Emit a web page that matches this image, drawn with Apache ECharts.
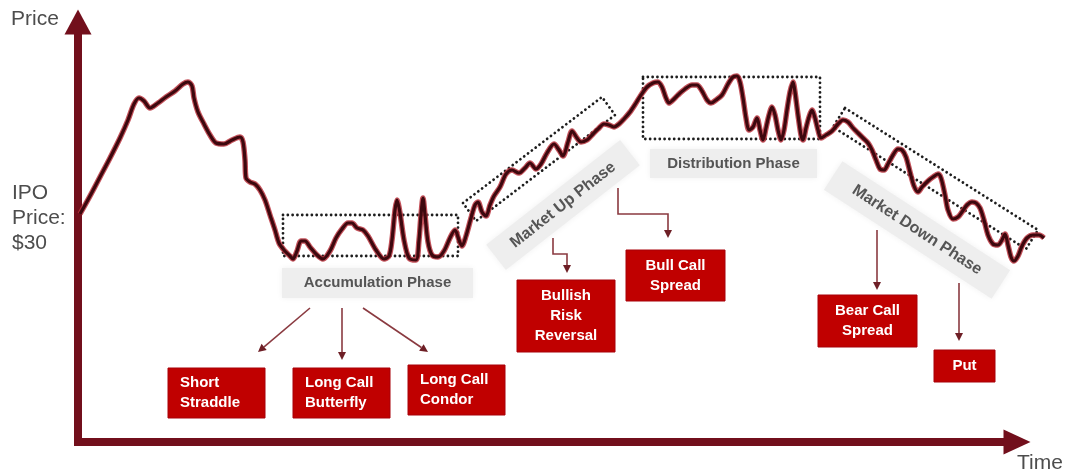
<!DOCTYPE html>
<html>
<head>
<meta charset="utf-8">
<script src="https://cdn.jsdelivr.net/npm/echarts@6/dist/echarts.min.js"></script>
<style>
  html, body { margin: 0; padding: 0; background: #fff; }
  #main { width: 1076px; height: 474px; }
</style>
</head>
<body>
<div id="main"></div>
<script>
// price path (time runs left to right, price level upward)
var time = [80, 90, 100, 110, 120, 128, 134, 139, 144, 150, 158, 166, 175, 183, 188, 192, 194, 198, 204, 210,
  216, 224, 232, 240, 243, 245, 246, 250, 255, 260, 265, 270, 275, 279, 284, 290,
  293, 297, 301, 305, 310, 317, 323, 330, 336, 342, 348, 352, 357, 363, 368, 376, 384, 389, 392, 395, 397, 400,
  404, 409, 416, 419, 421, 423, 425, 428, 432, 438, 444, 450, 455, 459, 462, 466, 471, 475, 478, 482, 486, 490,
  494, 500, 506, 512, 519, 525, 530, 536, 541, 547, 554, 559, 563, 568, 572, 577, 581, 587, 593, 598, 604, 609,
  614, 619, 624, 630, 636, 641, 647, 653, 658, 662, 666, 669, 673, 678, 685, 692, 697, 702, 707, 711, 716, 722,
  728, 733, 737, 740, 743, 746, 749, 753, 757, 760, 763, 766, 769, 772, 775, 778, 781, 784, 787, 790, 793, 795,
  798, 801, 803, 806, 809, 812, 815, 818, 821, 826, 832, 838, 843, 848, 853, 858, 863, 868, 872, 876, 880, 884,
  888, 893, 898, 902, 906, 910, 914, 918, 922, 928, 933, 938, 941, 945, 948, 953, 958, 962, 967, 972, 976, 980,
  984, 988, 993, 998, 1002, 1005, 1008, 1011, 1014, 1018, 1022, 1027, 1033, 1039, 1044];
var price = [228, 246, 265, 284, 304, 322, 338, 344, 341, 334, 339, 345, 351, 358, 360, 356, 344, 330, 318, 307,
  299, 298, 302, 305, 300, 282, 264, 260, 258, 252, 242, 227, 212, 199, 192, 186,
  183, 191, 201, 201, 195, 187, 183, 191, 204, 213, 219, 219, 214, 212, 206, 192, 183, 186, 202, 232, 242, 229,
  202, 184, 182, 202, 227, 244, 227, 200, 187, 185, 191, 204, 212, 202, 196, 206, 224, 237, 240, 230, 226, 237,
  246, 255, 268, 272, 269, 274, 279, 273, 278, 289, 298, 292, 286, 300, 311, 304, 300, 302, 308, 313, 318, 317,
  315, 318, 323, 330, 339, 347, 355, 359, 360, 355, 344, 339, 342, 347, 353, 357, 357, 351, 342, 339, 342, 347,
  358, 365, 366, 360, 344, 324, 312, 315, 324, 312, 302, 314, 327, 335, 327, 312, 302, 312, 332, 350, 360, 350,
  327, 307, 302, 314, 325, 332, 324, 312, 304, 307, 311, 318, 322, 320, 314, 309, 304, 299, 292, 282, 273, 272,
  278, 287, 293, 292, 285, 270, 256, 250, 255, 261, 265, 268, 264, 247, 232, 223, 225, 230, 237, 240, 239, 234,
  222, 207, 198, 197, 202, 208, 197, 185, 181, 186, 196, 204, 207, 207, 204];

var phaseNames = ['Accumulation Phase', 'Market Up Phase', 'Distribution Phase', 'Market Down Phase'];
var strategyNames = ['Short\nStraddle', 'Long Call\nButterfly', 'Long Call\nCondor', 'Bullish\nRisk\nReversal',
  'Bull Call\nSpread', 'Bear Call\nSpread', 'Put'];

// annotation layout, in the same time / price units as the axes
var phaseBoxes = [
  [[283, 227], [458, 227], [458, 186], [283, 186]],
  [[463, 239], [602, 345], [615, 327], [476, 221]],
  [[643, 365], [820, 365], [820, 303], [643, 303]],
  [[845, 334], [1038, 212], [1026, 193], [833, 315]]
];
var phaseLabels = [
  { at: [377.5, 159], w: 191, h: 30, rot: 0, size: 15 },
  { at: [563, 237], w: 170, h: 32, rot: 38, size: 16 },
  { at: [733.5, 278.5], w: 167, h: 29, rot: 0, size: 15 },
  { at: [917, 212], w: 200, h: 34, rot: -33, size: 16 }
];
var strategyBoxes = [
  { from: [168, 74], to: [265, 24], textX: 180 },
  { from: [293, 74], to: [390, 24], textX: 305 },
  { from: [408, 77], to: [505, 27], textX: 420 },
  { from: [517, 162], to: [615, 90] },
  { from: [626, 192], to: [725, 141] },
  { from: [818, 147], to: [917, 95] },
  { from: [934, 92], to: [995, 60] }
];
var arrows = [
  [[310, 134], [258, 90]],
  [[342, 134], [342, 82]],
  [[363, 134], [428, 90]],
  [[553, 204], [553, 188], [567, 188], [567, 169]],
  [[618, 254], [618, 228], [668, 228], [668, 204]],
  [[877, 212], [877, 152]],
  [[959, 159], [959, 101]]
];

var FONT = "'Liberation Sans', Arial, sans-serif";
var AXIS_RED = '#720f1c';

var chart = echarts.init(document.getElementById('main'));
var pathData = time.map(function (t, i) { return [t, price[i]]; });

var axisLine = {
  show: true,
  onZero: false,
  symbol: ['none', 'triangle'],
  lineStyle: { color: AXIS_RED, width: 8, cap: 'square' }
};
var hidden = { axisLine: { show: false }, axisTick: { show: false }, axisLabel: { show: false }, splitLine: { show: false } };

chart.setOption({
  animation: false,
  // grid 0 carries the arrowed axes, grid 1 (same scale, wider) carries the price path
  grid: [
    { left: 78, right: 59, top: 22, bottom: 32 },
    { left: 78, right: 31, top: 22, bottom: 32 }
  ],
  xAxis: [
    {
      type: 'value', gridIndex: 0, min: 78, max: 1017,
      axisLine: Object.assign({}, axisLine, { symbolSize: [25, 27] }),
      axisTick: { show: false }, axisLabel: { show: false }, splitLine: { show: false }
    },
    Object.assign({ type: 'value', gridIndex: 1, min: 78, max: 1045 }, hidden)
  ],
  yAxis: [
    {
      type: 'value', gridIndex: 0, min: 0, max: 420,
      axisLine: Object.assign({}, axisLine, { symbolSize: [27, 25] }),
      axisTick: { show: false }, axisLabel: { show: false }, splitLine: { show: false }
    },
    Object.assign({ type: 'value', gridIndex: 1, min: 0, max: 420 }, hidden)
  ],
  series: [
    {
      type: 'line', xAxisIndex: 1, yAxisIndex: 1, data: pathData, symbol: 'none', smooth: 0.3, silent: true, z: 3,
      lineStyle: { color: '#b8333d', width: 5.5, opacity: 0.85 }
    },
    {
      type: 'line', xAxisIndex: 1, yAxisIndex: 1, data: pathData, symbol: 'none', smooth: 0.3, silent: true, z: 4,
      lineStyle: { color: '#3d080e', width: 3.2 }
    }
  ]
});

function toPx(p) {
  return chart.convertToPixel({ gridIndex: 1 }, p);
}

function arrowEls(pts) {
  var p = pts.map(toPx);
  var a = p[p.length - 2], b = p[p.length - 1];
  var ang = Math.atan2(b[1] - a[1], b[0] - a[0]);
  var L = 8, W = 4;
  var cos = Math.cos(ang), sin = Math.sin(ang);
  var base = [b[0] - L * cos, b[1] - L * sin];
  var shaft = p.slice(0, -1).concat([base]);
  return [
    { type: 'polyline', z: 1, shape: { points: shaft }, style: { stroke: '#8a3a40', lineWidth: 1.6, fill: null } },
    { type: 'polygon', z: 1, shape: { points: [b, [base[0] + W * sin, base[1] - W * cos], [base[0] - W * sin, base[1] + W * cos]] },
      style: { fill: '#6e1f26' } }
  ];
}

var els = [];

// axis titles
els.push({ type: 'text', z: 5, style: { text: 'Price', x: 11, y: 19, font: '21px ' + FONT, fill: '#4d4d4d', align: 'left', verticalAlign: 'middle' } });
els.push({ type: 'text', z: 5, style: { text: 'Time', x: 1017, y: 463, font: '21px ' + FONT, fill: '#4d4d4d', align: 'left', verticalAlign: 'middle' } });
els.push({ type: 'text', z: 5, style: { text: 'IPO\nPrice:\n$30', x: 12, y: 181, font: '21px ' + FONT, lineHeight: 25, fill: '#4d4d4d', align: 'left', verticalAlign: 'top' } });

// phase labels with their grey backing
phaseLabels.forEach(function (d, i) {
  var c = toPx(d.at);
  els.push({
    type: 'group', x: c[0], y: c[1], rotation: d.rot * Math.PI / 180, z: 1,
    children: [
      { type: 'rect', z: 1, shape: { x: -d.w / 2, y: -d.h / 2, width: d.w, height: d.h },
        style: { fill: '#eeeeee', shadowBlur: 6, shadowColor: 'rgba(0,0,0,0.06)' } },
      { type: 'text', z: 1, style: { text: phaseNames[i], x: 0, y: 0, font: 'bold ' + d.size + 'px ' + FONT, fill: '#555555', align: 'center', verticalAlign: 'middle' } }
    ]
  });
});

// dotted phase outlines
phaseBoxes.forEach(function (box) {
  els.push({
    type: 'polygon', z: 2, shape: { points: box.map(toPx) },
    style: { fill: null, stroke: '#1e1e1e', lineWidth: 2.8, lineDash: [0.01, 4.8], lineCap: 'round' }
  });
});

// strategy boxes
strategyBoxes.forEach(function (d, i) {
  var a = toPx(d.from), b = toPx(d.to);
  var x = Math.min(a[0], b[0]), y = Math.min(a[1], b[1]);
  var w = Math.abs(b[0] - a[0]), h = Math.abs(b[1] - a[1]);
  els.push({ type: 'rect', z: 1, shape: { x: x, y: y, width: w, height: h }, style: { fill: '#c00000', stroke: '#a80008', lineWidth: 1 } });
  var left = d.textX != null;
  els.push({
    type: 'text', z: 2,
    style: {
      text: strategyNames[i], x: left ? toPx([d.textX, 0])[0] : x + w / 2, y: y + h / 2,
      font: 'bold 15px ' + FONT, lineHeight: 20, fill: '#ffffff',
      align: left ? 'left' : 'center', verticalAlign: 'middle'
    }
  });
});

arrows.forEach(function (pts) { els = els.concat(arrowEls(pts)); });

chart.setOption({ graphic: { elements: els } });
</script>
</body>
</html>
